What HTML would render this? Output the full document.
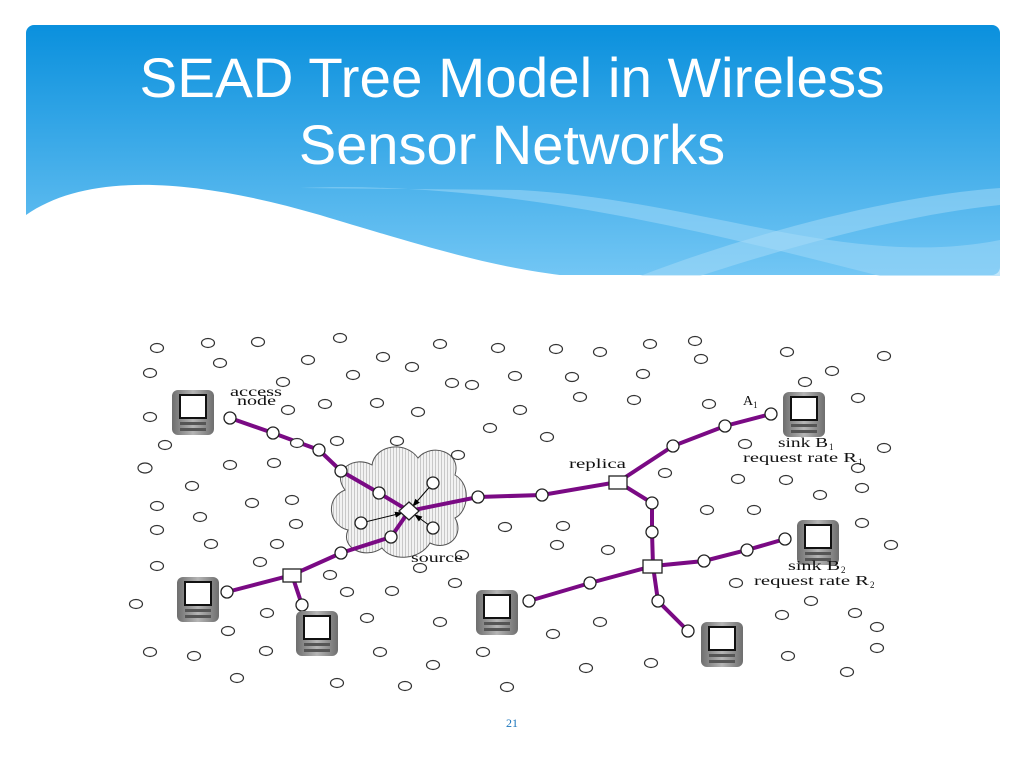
<!DOCTYPE html>
<html><head><meta charset="utf-8"><style>
html,body{margin:0;padding:0;background:#fff;width:1024px;height:768px;overflow:hidden}
</style></head><body>
<svg width="1024" height="768" viewBox="0 0 1024 768" xmlns="http://www.w3.org/2000/svg" font-family="Liberation Serif, serif">
<defs>
<linearGradient id="hg" x1="0" y1="0" x2="0" y2="1"><stop offset="0" stop-color="#0a90dd"/><stop offset="1" stop-color="#72c6f4"/></linearGradient>
<linearGradient id="pg" x1="0" y1="0" x2="1" y2="0"><stop offset="0" stop-color="#6e6e6e"/><stop offset="0.5" stop-color="#b5b5b5"/><stop offset="1" stop-color="#6e6e6e"/></linearGradient>
<pattern id="st" width="3" height="4" patternUnits="userSpaceOnUse"><rect width="3" height="4" fill="#f2f2f2"/><rect width="1" height="4" fill="#c8c8c8"/></pattern>
<marker id="ah" markerWidth="8" markerHeight="8" refX="7" refY="4" orient="auto" markerUnits="userSpaceOnUse"><path d="M0,1 L8,4 L0,7 Z" fill="#000"/></marker>
<g id="pda"><rect x="0" y="0" width="42" height="45" rx="6" fill="url(#pg)"/><rect x="7" y="4" width="28" height="25" fill="#111"/><rect x="9" y="6" width="24" height="21" fill="#fff"/><rect x="8" y="32" width="26" height="3" fill="#555"/><rect x="8" y="38" width="26" height="3" fill="#555"/></g>
</defs>
<rect x="26" y="25" width="974" height="250" rx="8" fill="url(#hg)"/>
<path d="M26 215 C90 170 200 180 320 215 C470 260 560 290 700 276 L1000 276 L1000 280 L26 280 Z" fill="#fff"/>
<path d="M300 188 C500 180 700 230 880 276 L1000 276 L1000 240 C850 270 700 200 520 190 Z" fill="#9ad5f7" opacity="0.6"/>
<path d="M640 276 C760 230 900 195 1000 188 L1000 205 C900 215 780 250 700 276 Z" fill="#a8dcf8" opacity="0.5"/>
<text x="512" y="97" font-family="Liberation Sans, sans-serif" font-size="56" fill="#fff" text-anchor="middle" textLength="745" lengthAdjust="spacingAndGlyphs">SEAD Tree Model in Wireless</text>
<text x="512" y="164" font-family="Liberation Sans, sans-serif" font-size="56" fill="#fff" text-anchor="middle">Sensor Networks</text>

<path d="M345 490 C330 470 355 455 372 465 C375 445 405 440 418 458 C432 442 462 452 455 475 C472 485 468 512 455 518 C465 535 448 552 430 543 C420 560 392 562 382 548 C365 560 340 548 348 530 C328 525 325 498 345 490 Z" fill="url(#st)" stroke="#555" stroke-width="1"/>

<g fill="none" stroke="#7a0a84" stroke-width="4" stroke-linecap="round">
<polyline points="230,418 273,433 319,450 341,471 379,493 409,511"/>
<polyline points="409,511 478,497 542,495 618,482 673,446 725,426 771,414"/>
<polyline points="618,482 652,503 652,532 653,566 704,561 747,550 785,539"/>
<polyline points="653,566 590,583 529,601"/>
<polyline points="653,566 658,601 688,631"/>
<polyline points="409,511 391,537 341,553 292,575 227,592"/>
<polyline points="292,575 302,605"/>
</g>
<g stroke="#000" stroke-width="1" fill="none" marker-end="url(#ah)">
<line x1="433" y1="483" x2="413" y2="506"/><line x1="361" y1="523" x2="402" y2="513"/><line x1="433" y1="528" x2="415" y2="515"/>
</g>
<g fill="#fff" stroke="#222" stroke-width="1.3">
<circle cx="230" cy="418" r="6"/><circle cx="273" cy="433" r="6"/><circle cx="319" cy="450" r="6"/><circle cx="341" cy="471" r="6"/><circle cx="379" cy="493" r="6"/>
<circle cx="433" cy="483" r="6"/><circle cx="361" cy="523" r="6"/><circle cx="433" cy="528" r="6"/><circle cx="391" cy="537" r="6"/>
<circle cx="478" cy="497" r="6"/><circle cx="542" cy="495" r="6"/><circle cx="673" cy="446" r="6"/><circle cx="725" cy="426" r="6"/><circle cx="771" cy="414" r="6"/>
<circle cx="652" cy="503" r="6"/><circle cx="652" cy="532" r="6"/><circle cx="704" cy="561" r="6"/><circle cx="747" cy="550" r="6"/><circle cx="785" cy="539" r="6"/>
<circle cx="590" cy="583" r="6"/><circle cx="529" cy="601" r="6"/><circle cx="658" cy="601" r="6"/><circle cx="688" cy="631" r="6"/>
<circle cx="341" cy="553" r="6"/><circle cx="227" cy="592" r="6"/><circle cx="302" cy="605" r="6"/>
<rect x="609" y="476" width="18" height="13"/><rect x="643" y="560" width="19" height="13"/><rect x="283" y="569" width="18" height="13"/>
<polygon points="409,502 419,511 409,520 399,511"/>
</g>
<g fill="#fff" stroke="#333" stroke-width="1.2">
<ellipse cx="157" cy="348" rx="6.5" ry="4.5"/><ellipse cx="208" cy="343" rx="6.5" ry="4.5"/><ellipse cx="258" cy="342" rx="6.5" ry="4.5"/><ellipse cx="340" cy="338" rx="6.5" ry="4.5"/><ellipse cx="440" cy="344" rx="6.5" ry="4.5"/><ellipse cx="498" cy="348" rx="6.5" ry="4.5"/><ellipse cx="556" cy="349" rx="6.5" ry="4.5"/><ellipse cx="600" cy="352" rx="6.5" ry="4.5"/><ellipse cx="650" cy="344" rx="6.5" ry="4.5"/><ellipse cx="695" cy="341" rx="6.5" ry="4.5"/><ellipse cx="787" cy="352" rx="6.5" ry="4.5"/><ellipse cx="884" cy="356" rx="6.5" ry="4.5"/>
<ellipse cx="150" cy="373" rx="6.5" ry="4.5"/><ellipse cx="220" cy="363" rx="6.5" ry="4.5"/><ellipse cx="308" cy="360" rx="6.5" ry="4.5"/><ellipse cx="383" cy="357" rx="6.5" ry="4.5"/><ellipse cx="353" cy="375" rx="6.5" ry="4.5"/><ellipse cx="412" cy="367" rx="6.5" ry="4.5"/><ellipse cx="472" cy="385" rx="6.5" ry="4.5"/><ellipse cx="515" cy="376" rx="6.5" ry="4.5"/><ellipse cx="572" cy="377" rx="6.5" ry="4.5"/><ellipse cx="643" cy="374" rx="6.5" ry="4.5"/><ellipse cx="701" cy="359" rx="6.5" ry="4.5"/><ellipse cx="832" cy="371" rx="6.5" ry="4.5"/><ellipse cx="805" cy="382" rx="6.5" ry="4.5"/><ellipse cx="283" cy="382" rx="6.5" ry="4.5"/>
<ellipse cx="150" cy="417" rx="6.5" ry="4.5"/><ellipse cx="288" cy="410" rx="6.5" ry="4.5"/><ellipse cx="325" cy="404" rx="6.5" ry="4.5"/><ellipse cx="377" cy="403" rx="6.5" ry="4.5"/><ellipse cx="418" cy="412" rx="6.5" ry="4.5"/><ellipse cx="490" cy="428" rx="6.5" ry="4.5"/><ellipse cx="520" cy="410" rx="6.5" ry="4.5"/><ellipse cx="580" cy="397" rx="6.5" ry="4.5"/><ellipse cx="634" cy="400" rx="6.5" ry="4.5"/><ellipse cx="709" cy="404" rx="6.5" ry="4.5"/><ellipse cx="858" cy="398" rx="6.5" ry="4.5"/><ellipse cx="884" cy="448" rx="6.5" ry="4.5"/><ellipse cx="452" cy="383" rx="6.5" ry="4.5"/>
<ellipse cx="165" cy="445" rx="6.5" ry="4.5"/><ellipse cx="230" cy="465" rx="6.5" ry="4.5"/><ellipse cx="274" cy="463" rx="6.5" ry="4.5"/><ellipse cx="297" cy="443" rx="6.5" ry="4.5"/><ellipse cx="337" cy="441" rx="6.5" ry="4.5"/><ellipse cx="397" cy="441" rx="6.5" ry="4.5"/><ellipse cx="458" cy="455" rx="6.5" ry="4.5"/><ellipse cx="547" cy="437" rx="6.5" ry="4.5"/><ellipse cx="665" cy="473" rx="6.5" ry="4.5"/><ellipse cx="745" cy="444" rx="6.5" ry="4.5"/><ellipse cx="858" cy="468" rx="6.5" ry="4.5"/><ellipse cx="862" cy="488" rx="6.5" ry="4.5"/>
<ellipse cx="145" cy="468" rx="7" ry="5"/><ellipse cx="192" cy="486" rx="6.5" ry="4.5"/><ellipse cx="252" cy="503" rx="6.5" ry="4.5"/><ellipse cx="292" cy="500" rx="6.5" ry="4.5"/><ellipse cx="157" cy="506" rx="6.5" ry="4.5"/><ellipse cx="157" cy="530" rx="6.5" ry="4.5"/><ellipse cx="200" cy="517" rx="6.5" ry="4.5"/><ellipse cx="296" cy="524" rx="6.5" ry="4.5"/><ellipse cx="157" cy="566" rx="6.5" ry="4.5"/><ellipse cx="211" cy="544" rx="6.5" ry="4.5"/><ellipse cx="260" cy="562" rx="6.5" ry="4.5"/><ellipse cx="277" cy="544" rx="6.5" ry="4.5"/><ellipse cx="330" cy="575" rx="6.5" ry="4.5"/>
<ellipse cx="505" cy="527" rx="6.5" ry="4.5"/><ellipse cx="557" cy="545" rx="6.5" ry="4.5"/><ellipse cx="608" cy="550" rx="6.5" ry="4.5"/><ellipse cx="707" cy="510" rx="6.5" ry="4.5"/><ellipse cx="754" cy="510" rx="6.5" ry="4.5"/><ellipse cx="738" cy="479" rx="6.5" ry="4.5"/><ellipse cx="786" cy="480" rx="6.5" ry="4.5"/><ellipse cx="820" cy="495" rx="6.5" ry="4.5"/><ellipse cx="862" cy="523" rx="6.5" ry="4.5"/><ellipse cx="891" cy="545" rx="6.5" ry="4.5"/><ellipse cx="563" cy="526" rx="6.5" ry="4.5"/>
<ellipse cx="736" cy="583" rx="6.5" ry="4.5"/><ellipse cx="811" cy="601" rx="6.5" ry="4.5"/><ellipse cx="855" cy="613" rx="6.5" ry="4.5"/><ellipse cx="782" cy="615" rx="6.5" ry="4.5"/><ellipse cx="600" cy="622" rx="6.5" ry="4.5"/><ellipse cx="553" cy="634" rx="6.5" ry="4.5"/><ellipse cx="651" cy="663" rx="6.5" ry="4.5"/><ellipse cx="586" cy="668" rx="6.5" ry="4.5"/><ellipse cx="788" cy="656" rx="6.5" ry="4.5"/><ellipse cx="847" cy="672" rx="6.5" ry="4.5"/><ellipse cx="877" cy="648" rx="6.5" ry="4.5"/><ellipse cx="877" cy="627" rx="6.5" ry="4.5"/>
<ellipse cx="136" cy="604" rx="6.5" ry="4.5"/><ellipse cx="267" cy="613" rx="6.5" ry="4.5"/><ellipse cx="228" cy="631" rx="6.5" ry="4.5"/><ellipse cx="367" cy="618" rx="6.5" ry="4.5"/><ellipse cx="347" cy="592" rx="6.5" ry="4.5"/><ellipse cx="440" cy="622" rx="6.5" ry="4.5"/><ellipse cx="392" cy="591" rx="6.5" ry="4.5"/><ellipse cx="455" cy="583" rx="6.5" ry="4.5"/><ellipse cx="462" cy="555" rx="6.5" ry="4.5"/><ellipse cx="420" cy="568" rx="6.5" ry="4.5"/>
<ellipse cx="150" cy="652" rx="6.5" ry="4.5"/><ellipse cx="194" cy="656" rx="6.5" ry="4.5"/><ellipse cx="266" cy="651" rx="6.5" ry="4.5"/><ellipse cx="337" cy="683" rx="6.5" ry="4.5"/><ellipse cx="405" cy="686" rx="6.5" ry="4.5"/><ellipse cx="433" cy="665" rx="6.5" ry="4.5"/><ellipse cx="483" cy="652" rx="6.5" ry="4.5"/><ellipse cx="507" cy="687" rx="6.5" ry="4.5"/><ellipse cx="237" cy="678" rx="6.5" ry="4.5"/><ellipse cx="380" cy="652" rx="6.5" ry="4.5"/>
</g>
<use href="#pda" x="172" y="390"/><use href="#pda" x="177" y="577"/><use href="#pda" x="296" y="611"/><use href="#pda" x="476" y="590"/><use href="#pda" x="701" y="622"/><use href="#pda" x="783" y="392"/><use href="#pda" x="797" y="520"/>
<g font-size="14" fill="#111">
<text x="230" y="396" textLength="52" lengthAdjust="spacingAndGlyphs">access</text>
<text x="237" y="405" textLength="39" lengthAdjust="spacingAndGlyphs">node</text>
<text x="569" y="468" textLength="57" lengthAdjust="spacingAndGlyphs">replica</text>
<text x="411" y="562" textLength="52" lengthAdjust="spacingAndGlyphs">source</text>
<text x="743" y="405">A<tspan font-size="9" dy="3">1</tspan></text>
<text x="778" y="447" textLength="50" lengthAdjust="spacingAndGlyphs">sink B</text><text x="829" y="450" font-size="9">1</text>
<text x="743" y="462" textLength="114" lengthAdjust="spacingAndGlyphs">request rate R</text><text x="858" y="465" font-size="9">1</text>
<text x="788" y="570" textLength="52" lengthAdjust="spacingAndGlyphs">sink B</text><text x="841" y="573" font-size="9">2</text>
<text x="754" y="585" textLength="115" lengthAdjust="spacingAndGlyphs">request rate R</text><text x="870" y="588" font-size="9">2</text>
</g>
<text x="512" y="727" font-size="12" fill="#1b75bc" text-anchor="middle">21</text>
</svg>
</body></html>
